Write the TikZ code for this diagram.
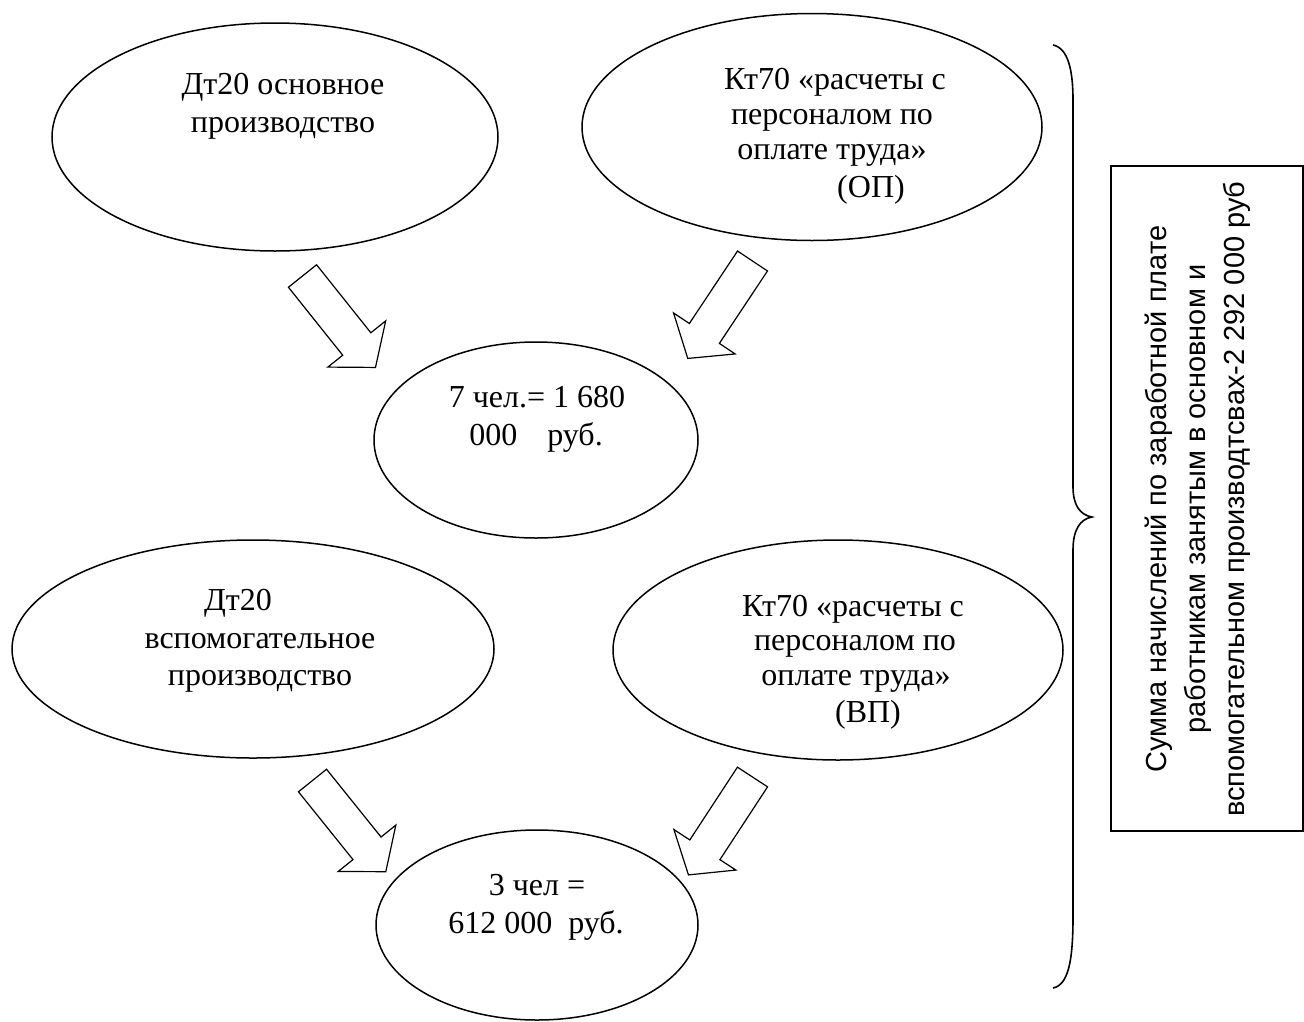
\documentclass[tikz,border=0pt]{standalone}
\usepackage{fontspec}
\setmainfont{Liberation Serif}
\newfontfamily\sansf{Liberation Sans}
\usetikzlibrary{shapes.geometric}
\newcommand\blockarrow[2]{\draw[blk, shift={(#1)}, rotate=#2] (0,-18) -- (87,-18) -- (87,-37) -- (117,0) -- (87,37) -- (87,18) -- (0,18) -- cycle;}
\begin{document}
\begin{tikzpicture}[x=1pt,y=-1pt,
  ell/.style={draw, ellipse, line width=1.5pt, inner sep=0pt},
  lbl/.style={anchor=base, inner sep=0pt, font=\fontsize{32}{37}\selectfont},
  blk/.style={draw, line width=1.2pt, line join=miter, fill=white},
  bracepath/.style={line width=1.6pt},
  sumbox/.style={draw, line width=2pt, inner sep=0pt},
  sumtext/.style={rotate=90, align=center, inner sep=0pt, font=\sansf\fontsize{29}{39}\selectfont}
]
\useasboundingbox (0,0) rectangle (1304,1021);

% ellipses
\node[ell, minimum width=446pt, minimum height=228pt] (e1) at (275,137) {};
\node[ell, minimum width=460pt, minimum height=227pt] (e2) at (812,127) {};
\node[ell, minimum width=324pt, minimum height=196pt] (e3) at (536,440) {};
\node[ell, minimum width=482pt, minimum height=218pt] (e4) at (253,649) {};
\node[ell, minimum width=450pt, minimum height=220pt] (e5) at (838,650) {};
\node[ell, minimum width=322pt, minimum height=190pt] (e6) at (537,925) {};

% labels
\node[lbl] (t1a) at (283,94) {Дт20 основное};
\node[lbl] (t1b) at (283,132) {производство};
\node[lbl] (t2a) at (835,89) {Кт70 «расчеты с};
\node[lbl] (t2b) at (832,124) {персоналом по};
\node[lbl] (t2c) at (832,159) {оплате труда»};
\node[lbl] (t2d) at (871,197) {(ОП)};
\node[lbl] (t3a) at (537,407) {7 чел.= 1 680};
\node[lbl] (t3b) at (536,445) {000\hspace{30pt}руб.};
\node[lbl] (t4a) at (238,610) {Дт20};
\node[lbl] (t4b) at (260,648) {вспомогательное};
\node[lbl] (t4c) at (260,685) {производство};
\node[lbl] (t5a) at (853,616) {Кт70 «расчеты с};
\node[lbl] (t5b) at (855,650) {персоналом по};
\node[lbl] (t5c) at (856,685) {оплате труда»};
\node[lbl] (t5d) at (868,722) {(ВП)};
\node[lbl] (t6a) at (537,895) {3 чел =};
\node[lbl] (t6b) at (536,933) {612 000\hspace{16pt}руб.};

% block arrows
\coordinate (a1) at (302.5,276);
\coordinate (a2) at (752.5,261);
\coordinate (a3) at (312.5,780.5);
\coordinate (a4) at (752.5,777);
\blockarrow{a1}{-51.4}
\blockarrow{a2}{-123.6}
\blockarrow{a3}{-51.2}
\blockarrow{a4}{-123.2}

% brace
\coordinate (btip) at (1092,517);
\draw[bracepath] (1053,45) .. controls (1068,48) and (1073,70) .. (1073,100)
  -- (1073,487) .. controls (1073,505) and (1080,515) .. (btip)
  .. controls (1080,519) and (1073,530) .. (1073,550)
  -- (1073,917) .. controls (1073,962) and (1068,985) .. (1053,988);

% summary box
\node[sumbox, minimum width=192pt, minimum height=665pt] (box) at (1207,498.5) {};
\node[sumtext] (st) at (1198,499) {Сумма начислений по заработной плате\\работникам занятым в основном и\\вспомогательном производтсвах-2 292 000 руб};
\end{tikzpicture}
\end{document}
